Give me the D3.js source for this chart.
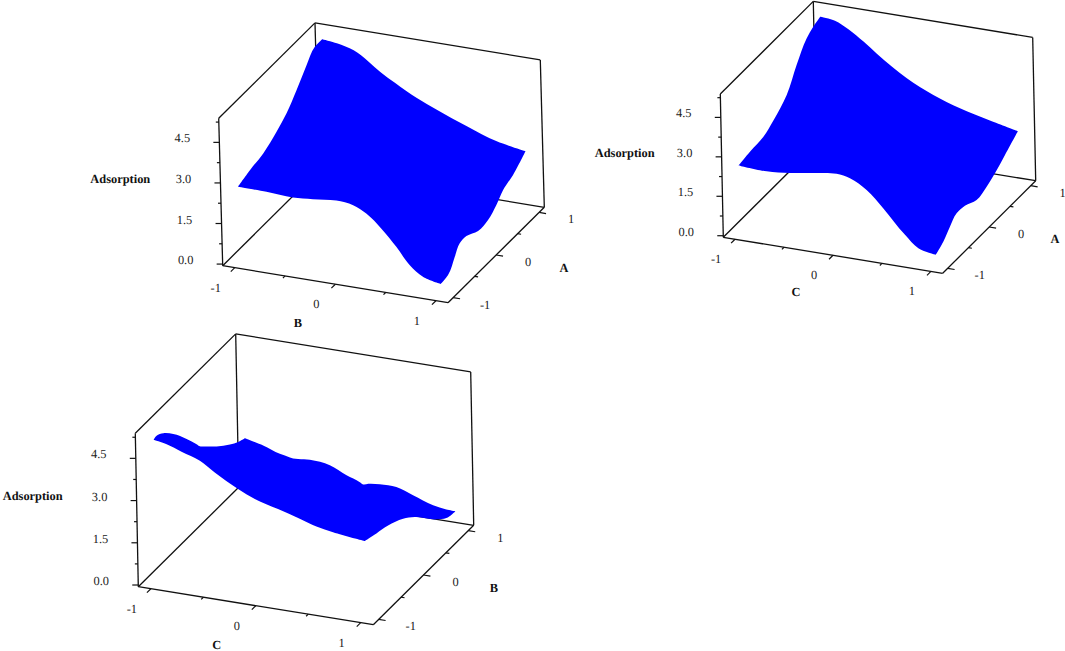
<!DOCTYPE html>
<html>
<head>
<meta charset="utf-8">
<script src="https://cdn.jsdelivr.net/npm/d3@7"></script>
<style>
  body { margin: 0; background: #fff; }
  svg { display: block; }
  text { font-family: "Liberation Serif", "Times New Roman", serif; font-size: 12.4px; fill: #222; text-rendering: geometricPrecision; }
  .title { font-weight: bold; fill: #111; }
</style>
</head>
<body>
<svg id="vis"></svg>
<script>
WIDTH = 1065;
HEIGHT = 651;

// tick values shared by the three plots
const axisTicks = [-1, -0.5, 0, 0.5, 1];
const axisLabels = [-1, 0, 1];
const heightTicks = [0, 0.75, 1.5, 2.25, 3, 3.75, 4.5, 5.25];
const heightLabels = ["0.0", "1.5", "3.0", "4.5"];

// surface edges: position along the edge, then height
// plot 1: B (x) / A (y)
const ab_frontPos = [-1, -0.716, -0.454, -0.254, -0.02, 0.146, 0.275, 0.42, 0.566, 0.696, 0.824, 1];
const ab_frontZ = [2.74, 2.73, 2.68, 2.74, 2.83, 2.76, 2.53, 2.07, 1.48, 0.88, 0.53, 0.37];
const ab_rightPos = [-1, -0.83, -0.666, -0.546, -0.39, -0.122, 0.11, 0.308, 0.47, 0.704, 1];
const ab_rightZ = [0.37, 0.43, 0.85, 1.16, 1.18, 0.95, 0.99, 1.23, 1.53, 1.72, 2.13];
const ab_backPos = [1, 0.716, 0.422, 0.126, -0.07, -0.282, -0.428, -0.542, -0.688, -0.854, -1];
const ab_backZ = [2.13, 2.32, 2.7, 3.13, 3.44, 3.87, 4.19, 4.5, 4.83, 4.99, 5.05];
const ab_leftPos = [1, 0.83, 0.63, 0.39, 0.148, -0.09, -0.405, -0.717, -1];
const ab_leftZ = [5.05, 5.04, 4.67, 4.13, 3.65, 3.34, 3.04, 2.91, 2.74];

// plot 2: C (x) / A (y)
const ac_frontPos = [-1, -0.714, -0.476, -0.202, 0.002, 0.138, 0.306, 0.472, 0.69, 0.824, 1];
const ac_frontZ = [2.56, 2.51, 2.59, 2.76, 2.85, 2.77, 2.42, 1.83, 0.95, 0.52, 0.38];
const ac_rightPos = [-1, -0.814, -0.65, -0.486, -0.286, -0.008, 0.236, 0.438, 0.684, 1];
const ac_rightZ = [0.38, 0.59, 0.9, 1.15, 1.12, 0.91, 1.03, 1.22, 1.53, 1.94];
const ac_backPos = [1, 0.716, 0.412, 0.142, -0.126, -0.278, -0.428, -0.562, -0.714, -0.85, -1];
const ac_backZ = [1.94, 2.17, 2.45, 2.79, 3.26, 3.62, 4.01, 4.39, 4.77, 5.01, 5.07];
const ac_leftPos = [1, 0.834, 0.67, 0.42, 0.17, -0.16, -0.4, -0.72, -1];
const ac_leftZ = [5.07, 4.96, 4.77, 4.15, 3.4, 2.94, 2.71, 2.65, 2.56];

// plot 3: C (x) / B (y)
const bc_frontPos = [-1, -0.875, -0.734, -0.56, -0.42, -0.2, -0.042, 0.178, 0.384, 0.542, 0.7, 1];
const bc_frontZ = [5.04, 4.96, 4.78, 4.56, 4.23, 3.78, 3.52, 3.29, 3.07, 2.89, 2.78, 2.65];
const bc_rightPos = [-1, -0.738, -0.48, -0.148, 0.108, 0.58, 0.8, 1];
const bc_rightZ = [2.65, 2.51, 2.38, 2.1, 1.76, 0.93, 0.63, 0.56];
const bc_backPos = [1, 0.914, 0.788, 0.598, 0.44, 0.282, 0.172, 0.122, 0.092, -0.034, -0.192, -0.382, -0.494, -0.542, -0.572, -0.668, -0.826, -1];
const bc_backZ = [0.56, 0.57, 0.64, 0.88, 1.08, 1.08, 1.03, 0.98, 1.04, 1.21, 1.47, 1.55, 1.51, 1.5, 1.52, 1.59, 1.79, 1.94];
const bc_leftPos = [1, 0.854, 0.672, 0.38, 0.102, 0.014, -0.058, -0.274, -0.564, -0.78, -0.93, -1];
const bc_leftZ = [1.94, 2.04, 2.24, 2.63, 3.07, 3.21, 3.4, 3.93, 4.56, 4.93, 5.08, 5.04];

const plots = [
  { xName: "B", yName: "A",
    left: [222.7, 265.7], top: [218.7, 118.3], front: [448, 302.7], right: [544.3, 207.3],
    title: [120.3, 178.7], xTitle: [298, 322.7], yTitle: [564, 268],
    front_: [ab_frontPos, ab_frontZ], right_: [ab_rightPos, ab_rightZ], back_: [ab_backPos, ab_backZ], left_: [ab_leftPos, ab_leftZ] },
  { xName: "C", yName: "A",
    left: [723.3, 237.3], top: [720.3, 94], front: [942.7, 273.3], right: [1035.7, 180.7],
    title: [624.7, 152.7], xTitle: [796, 292.3], yTitle: [1055, 239],
    front_: [ac_frontPos, ac_frontZ], right_: [ac_rightPos, ac_rightZ], back_: [ac_backPos, ac_backZ], left_: [ac_leftPos, ac_leftZ] },
  { xName: "C", yName: "B",
    left: [138.3, 586.7], top: [135.3, 433.3], front: [373.3, 624.7], right: [473.7, 525.3],
    title: [32.7, 495.7], xTitle: [216.7, 645], yTitle: [494, 588.3],
    front_: [bc_frontPos, bc_frontZ], right_: [bc_rightPos, bc_rightZ], back_: [bc_backPos, bc_backZ], left_: [bc_leftPos, bc_leftZ] }
];

const SVG = d3.select("#vis").attr("width", WIDTH).attr("height", HEIGHT);

// axes run a bit past -1 and 1 on every side of the floor
const xScale = d3.scaleLinear().domain([-1.12, 1.12]).range([0, 1]);
const yScale = d3.scaleLinear().domain([-1.12, 1.12]).range([0, 1]);
const zScale = d3.scaleLinear().domain([-0.06, 5.39]).range([0, 1]);

const XMIN = xScale.domain()[0], XMAX = xScale.domain()[1];
const YMIN = yScale.domain()[0], YMAX = yScale.domain()[1];
const ZMIN = zScale.domain()[0], ZMAX = zScale.domain()[1];

const edgeLine = d3.line().curve(d3.curveCatmullRom.alpha(1));

plots.forEach(p => {
  // the box is not in perspective, just three vectors from the left corner
  const vx = [p.front[0] - p.left[0], p.front[1] - p.left[1]];
  const vy = [p.right[0] - p.front[0], p.right[1] - p.front[1]];
  const vz = [p.top[0] - p.left[0], p.top[1] - p.left[1]];

  function project(x, y, z) {
    const a = xScale(x), b = yScale(y), c = zScale(z);
    return [
      p.left[0] + a * vx[0] + b * vy[0] + c * vz[0],
      p.left[1] + a * vx[1] + b * vy[1] + c * vz[1]
    ];
  }

  const g = SVG.append("g");

  // box frame
  const frame = [
    [[XMIN, YMIN, ZMIN], [XMIN, YMIN, ZMAX]],
    [[XMIN, YMIN, ZMAX], [XMIN, YMAX, ZMAX]],
    [[XMIN, YMAX, ZMAX], [XMAX, YMAX, ZMAX]],
    [[XMAX, YMAX, ZMAX], [XMAX, YMAX, ZMIN]],
    [[XMIN, YMAX, ZMAX], [XMIN, YMAX, ZMIN]],
    [[XMIN, YMIN, ZMIN], [XMIN, YMAX, ZMIN]],
    [[XMIN, YMAX, ZMIN], [XMAX, YMAX, ZMIN]],
    [[XMIN, YMIN, ZMIN], [XMAX, YMIN, ZMIN]],
    [[XMAX, YMIN, ZMIN], [XMAX, YMAX, ZMIN]]
  ];
  g.selectAll("line.frame")
    .data(frame)
    .join("line")
    .attr("class", "frame")
    .attr("x1", d => project(...d[0])[0])
    .attr("y1", d => project(...d[0])[1])
    .attr("x2", d => project(...d[1])[0])
    .attr("y2", d => project(...d[1])[1])
    .attr("stroke", "#111")
    .attr("stroke-width", 1.3);

  const ux = Math.hypot(vx[0], vx[1]), uy = Math.hypot(vy[0], vy[1]);

  // ticks on x axis point away from the floor
  g.selectAll("line.xtick")
    .data(axisTicks)
    .join("line")
    .attr("class", "xtick")
    .attr("x1", d => project(d, YMIN, ZMIN)[0])
    .attr("y1", d => project(d, YMIN, ZMIN)[1])
    .attr("x2", d => project(d, YMIN, ZMIN)[0] - vy[0] / uy * (d % 1 === 0 ? 5.6 : 3))
    .attr("y2", d => project(d, YMIN, ZMIN)[1] - vy[1] / uy * (d % 1 === 0 ? 5.6 : 3))
    .attr("stroke", "#111")
    .attr("stroke-width", 1.2);

  g.selectAll("line.ytick")
    .data(axisTicks)
    .join("line")
    .attr("class", "ytick")
    .attr("x1", d => project(XMAX, d, ZMIN)[0])
    .attr("y1", d => project(XMAX, d, ZMIN)[1])
    .attr("x2", d => project(XMAX, d, ZMIN)[0] + vx[0] / ux * (d % 1 === 0 ? 7 : 3.5))
    .attr("y2", d => project(XMAX, d, ZMIN)[1] + vx[1] / ux * (d % 1 === 0 ? 7 : 3.5))
    .attr("stroke", "#111")
    .attr("stroke-width", 1.2);

  g.selectAll("line.ztick")
    .data(heightTicks)
    .join("line")
    .attr("class", "ztick")
    .attr("x1", d => project(XMIN, YMIN, d)[0])
    .attr("y1", d => project(XMIN, YMIN, d)[1])
    .attr("x2", (d, i) => project(XMIN, YMIN, d)[0] - (i % 2 === 0 ? 6 : 3))
    .attr("y2", d => project(XMIN, YMIN, d)[1])
    .attr("stroke", "#111")
    .attr("stroke-width", 1.2);

  // the surface outline, one curve per edge so the corners stay sharp
  const frontPts = d3.zip(...p.front_).map(d => project(d[0], -1, d[1]));
  const rightPts = d3.zip(...p.right_).map(d => project(1, d[0], d[1]));
  const backPts = d3.zip(...p.back_).map(d => project(d[0], 1, d[1]));
  const leftPts = d3.zip(...p.left_).map(d => project(-1, d[0], d[1]));
  const outline = [frontPts, rightPts, backPts, leftPts]
    .map((pts, i) => {
      const s = edgeLine(pts);
      return i === 0 ? s : "L" + s.slice(1);
    })
    .join("") + "Z";

  g.append("path")
    .attr("d", outline)
    .attr("fill", "#0000ff");

  // tick labels
  g.selectAll("text.xlab")
    .data(axisLabels)
    .join("text")
    .attr("class", "xlab")
    .attr("x", d => project(d, YMIN, ZMIN)[0] - 19)
    .attr("y", d => project(d, YMIN, ZMIN)[1] + 20)
    .attr("text-anchor", "middle")
    .attr("dominant-baseline", "central")
    .text(d => d);

  g.selectAll("text.ylab")
    .data(axisLabels)
    .join("text")
    .attr("class", "ylab")
    .attr("x", d => project(XMAX, d, ZMIN)[0] + 32)
    .attr("y", d => project(XMAX, d, ZMIN)[1] + 7)
    .attr("text-anchor", "middle")
    .attr("dominant-baseline", "central")
    .text(d => d);

  g.selectAll("text.zlab")
    .data(heightLabels)
    .join("text")
    .attr("class", "zlab")
    .attr("x", d => project(XMIN, YMIN, +d)[0] - 37)
    .attr("y", d => project(XMIN, YMIN, +d)[1] - 4)
    .attr("text-anchor", "middle")
    .attr("dominant-baseline", "central")
    .text(d => d);

  // axis titles
  const titles = [["Adsorption", p.title], [p.xName, p.xTitle], [p.yName, p.yTitle]];
  g.selectAll("text.title")
    .data(titles)
    .join("text")
    .attr("class", "title")
    .attr("x", d => d[1][0])
    .attr("y", d => d[1][1])
    .attr("text-anchor", "middle")
    .attr("dominant-baseline", "central")
    .text(d => d[0]);
});
</script>
</body>
</html>
